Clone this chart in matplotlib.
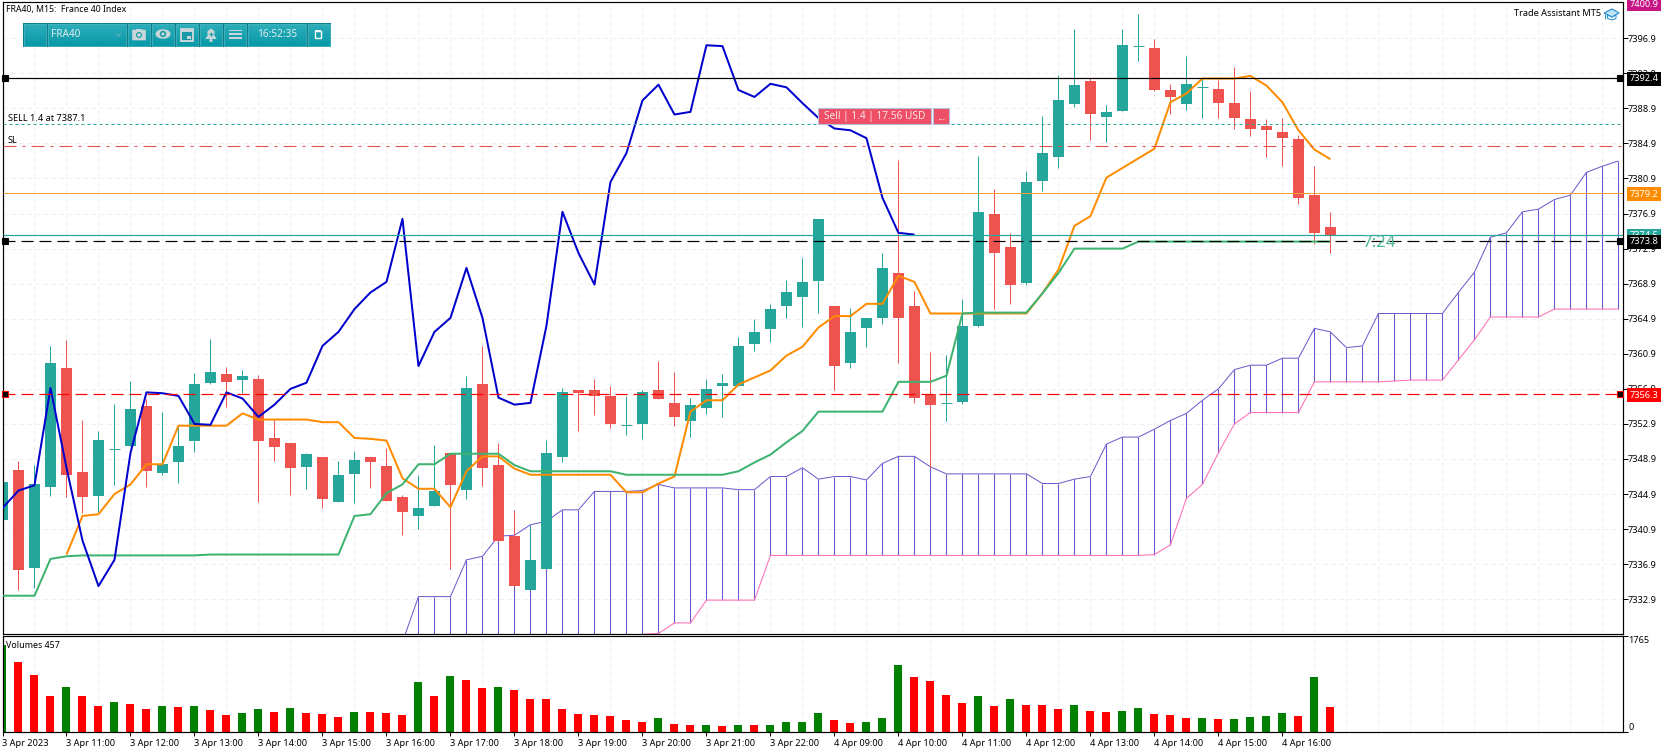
import numpy as np
import matplotlib
matplotlib.use("Agg")
import matplotlib.pyplot as plt
from matplotlib.patches import Rectangle, Circle, Ellipse, Polygon, FancyBboxPatch

# ---------- data ----------
open_ = [7341.9,7347.7,7336.5,7345.7,7359.3,7347.4,7344.7,7350.0,7350.4,7355.0,
 7347.3,7348.6,7351.0,7357.6,7358.6,7357.9,7358.0,7351.3,7350.7,7348.0,
 7349.1,7344.0,7347.2,7349.1,7348.1,7344.6,7342.4,7343.5,7349.6,7345.4,
 7357.4,7348.2,7340.1,7334.0,7336.4,7349.1,7356.8,7356.8,7356.1,7352.8,
 7352.9,7356.8,7355.3,7353.2,7354.7,7357.2,7357.2,7362.0,7363.7,7366.3,
 7367.4,7369.2,7366.4,7359.8,7363.9,7365.0,7370.1,7366.3,7356.3,7355.3,
 7355.4,7364.1,7376.9,7373.1,7369.0,7380.6,7383.3,7389.4,7392.0,7387.9,
 7388.6,7396.0,7395.8,7391.0,7389.4,7391.3,7391.1,7389.5,7387.7,7386.9,
 7386.2,7385.4,7379.0,7375.4]
close = [7346.3,7336.2,7346.1,7359.8,7347.1,7344.6,7351.1,7350.0,7354.6,7347.5,
 7348.3,7350.4,7357.5,7358.8,7357.7,7358.4,7351.0,7350.3,7347.9,7349.5,
 7344.3,7347.1,7348.8,7348.6,7344.1,7342.8,7343.3,7345.3,7345.9,7357.0,
 7347.9,7339.6,7334.4,7337.4,7349.6,7356.5,7356.4,7356.1,7352.9,7352.8,
 7356.5,7355.8,7353.7,7355.1,7356.9,7357.6,7361.8,7363.4,7366.0,7367.9,
 7369.1,7376.3,7359.5,7363.4,7365.0,7370.7,7365.0,7355.9,7355.1,7355.3,
 7364.1,7377.1,7372.4,7368.8,7380.5,7383.8,7389.8,7391.6,7388.2,7388.5,
 7396.1,7396.0,7391.0,7390.2,7391.7,7391.3,7389.5,7387.8,7386.6,7386.4,
 7385.5,7378.7,7374.7,7374.5]
high = [7346.3,7348.7,7348.2,7361.8,7362.5,7353.4,7352.1,7355.2,7357.8,7355.8,
 7354.3,7352.5,7358.7,7362.6,7359.4,7359.1,7358.5,7353.4,7350.7,7349.6,
 7349.1,7348.7,7349.8,7349.1,7350.2,7344.8,7347.1,7350.5,7349.6,7358.4,
 7361.8,7350.7,7343.1,7341.3,7351.1,7357.0,7356.8,7358.0,7357.2,7356.1,
 7356.8,7360.1,7358.8,7355.9,7358.0,7358.6,7362.8,7364.9,7366.6,7369.3,
 7371.8,7376.3,7366.4,7366.1,7365.0,7372.4,7383.0,7368.1,7361.1,7360.8,
 7367.2,7383.5,7379.7,7374.7,7381.8,7388.0,7392.7,7398.0,7392.4,7389.3,
 7398.0,7399.7,7396.8,7391.7,7394.9,7392.3,7392.1,7393.6,7390.9,7387.7,
 7387.8,7385.9,7382.3,7377.1]
low = [7341.9,7334.0,7334.2,7344.7,7344.6,7342.7,7342.9,7345.9,7350.4,7345.7,
 7347.1,7346.2,7349.7,7357.4,7354.8,7356.4,7344.0,7348.7,7344.8,7345.5,
 7343.3,7344.0,7343.9,7345.6,7344.1,7340.2,7340.9,7343.5,7336.4,7344.3,
 7345.8,7339.6,7334.4,7334.0,7336.4,7348.5,7352.1,7353.9,7352.4,7351.6,
 7351.2,7355.8,7352.7,7351.4,7354.0,7353.7,7357.2,7361.2,7362.3,7365.0,
 7364.0,7365.5,7356.8,7359.3,7361.7,7364.3,7359.8,7355.3,7347.9,7353.2,
 7355.2,7364.0,7366.0,7366.6,7368.8,7379.5,7382.1,7389.0,7385.3,7385.1,
 7388.6,7394.3,7390.9,7388.2,7388.7,7387.8,7387.8,7386.6,7385.8,7383.4,
 7382.3,7378.0,7373.4,7372.4]
tenkan_start = 4
tenkan = [7338.0,7342.4,7342.6,7344.9,7346.0,7348.3,
 7348.3,7352.7,7352.7,7352.7,7352.7,7354.1,7353.4,7353.4,7353.4,7353.4,
 7353.1,7353.1,7351.3,7351.2,7351.0,7346.7,7345.5,7345.5,7343.4,7347.5,
 7349.2,7349.2,7347.8,7347.1,7347.1,7347.1,7347.1,7347.1,7347.1,7345.1,
 7345.1,7346.1,7346.9,7354.3,7355.6,7355.6,7357.4,7358.2,7359.0,7360.7,
 7361.7,7363.9,7365.2,7365.2,7366.6,7366.6,7369.8,7369.1,7365.5,7365.5,
 7365.5,7365.5,7365.5,7365.5,7365.5,7367.8,7370.5,7375.5,7376.6,7381.0,
 7382.1,7383.2,7384.3,7389.6,7390.6,7392.3,7392.3,7392.3,7392.6,7391.5,
 7389.6,7386.4,7384.2,7383.1]
kijun = [7333.3,7333.3,7333.3,7337.5,7337.8,7337.9,7337.9,7337.9,7337.9,7337.9,
 7337.9,7337.9,7337.9,7338.0,7338.0,7338.0,7338.0,7338.0,7338.0,7338.0,
 7338.0,7338.0,7342.4,7342.6,7345.0,7346.0,7348.3,7348.3,7349.5,7349.5,
 7349.5,7349.5,7348.2,7347.5,7347.5,7347.5,7347.5,7347.5,7347.5,7347.1,
 7347.1,7347.1,7347.1,7347.1,7347.1,7347.1,7347.5,7348.5,7349.4,7350.8,
 7352.1,7354.3,7354.3,7354.3,7354.3,7354.3,7357.7,7357.7,7357.7,7358.4,
 7365.5,7365.6,7365.6,7365.6,7365.6,7367.8,7370.1,7372.9,7372.9,7372.9,
 7372.9,7373.7,7373.7,7373.7,7373.7,7373.7,7373.7,7373.7,7373.7,7373.7,
 7373.7,7373.7,7373.7,7373.7]
senkou_start = 25
senkou_a = [7328.0,7333.2,7333.2,7333.2,7337.4,
 7337.8,7340.1,7340.2,7341.4,7341.8,7343.1,7343.1,7345.2,7345.2,7345.2,
 7345.3,7346.0,7345.6,7345.6,7345.6,7345.6,7345.4,7345.4,7346.9,7346.9,
 7347.9,7346.6,7346.9,7346.9,7346.5,7348.4,7349.2,7349.2,7348.0,7347.2,
 7347.2,7347.2,7347.2,7347.2,7347.2,7346.1,7346.1,7346.6,7346.9,7350.6,
 7351.4,7351.4,7352.3,7353.3,7354.1,7355.6,7356.9,7359.1,7359.6,7359.6,
 7360.4,7360.4,7363.8,7363.4,7361.6,7361.8,7365.5,7365.5,7365.5,7365.5,
 7365.5,7367.9,7370.2,7374.2,7374.7,7377.1,7377.4,7378.5,7379.0,7381.6,
 7382.3,7382.9]
senkou_b = [7328.0,7328.0,7328.0,7328.0,7328.0,
 7328.0,7328.0,7328.0,7328.0,7328.0,7328.0,7328.0,7328.0,7328.0,7328.0,
 7328.9,7329.0,7330.2,7330.2,7332.8,7332.8,7332.8,7332.8,7337.9,7337.9,
 7337.9,7337.9,7337.9,7337.9,7337.9,7337.9,7337.9,7337.9,7337.9,7337.9,
 7337.9,7337.9,7337.9,7337.9,7337.9,7337.9,7337.9,7337.9,7337.9,7337.9,
 7337.9,7337.9,7338.0,7339.1,7344.4,7346.0,7349.6,7352.9,7354.2,7354.2,
 7354.2,7354.2,7357.7,7357.7,7357.7,7357.7,7357.7,7357.8,7357.9,7357.9,
 7357.9,7360.2,7362.5,7365.1,7365.1,7365.1,7365.1,7366.0,7366.0,7366.0,
 7366.0,7366.0]
chikou_shift = 26
volumes = [1599,1292,1052,664,830,664,480,554,517,424,
 480,461,480,406,314,351,424,369,443,351,
 332,277,369,369,351,314,923,664,1033,959,
 812,830,775,609,609,424,332,314,295,221,
 185,258,148,129,129,111,129,129,129,185,
 185,351,221,166,185,258,1236,1015,941,683,
 535,664,480,609,498,498,424,498,387,369,
 387,443,332,314,258,258,240,240,277,295,
 351,295,1015,457]
vol_dirs = "grrrgrrgrr" "grgrrggrgr" "rrgrrrgrgr" "rgrrrrrrrr" "rgrrgrgrgg" \
           "ggrrgggrrr" "rgrgrrrgrr" "ggrrrgrggg" "grgr"
price_ticks = [7396.9,7392.9,7388.9,7384.9,7380.9,7376.9,7372.9,7368.9,7364.9,
               7360.9,7356.9,7352.9,7348.9,7344.9,7340.9,7336.9,7332.9]
time_labels = ["3 Apr 2023","3 Apr 11:00","3 Apr 12:00","3 Apr 13:00","3 Apr 14:00",
               "3 Apr 15:00","3 Apr 16:00","3 Apr 17:00","3 Apr 18:00","3 Apr 19:00",
               "3 Apr 20:00","3 Apr 21:00","3 Apr 22:00","4 Apr 09:00","4 Apr 10:00",
               "4 Apr 11:00","4 Apr 12:00","4 Apr 13:00","4 Apr 14:00","4 Apr 15:00","4 Apr 16:00"]
LEVEL_BLACK, LEVEL_SELL, LEVEL_SL, LEVEL_ORANGE, LEVEL_BID, LEVEL_DASH, LEVEL_RED = \
    7392.4, 7387.1, 7384.6, 7379.2, 7374.5, 7373.8, 7356.3

# ---------- style ----------
W, H = 1670, 753
PX = 0.72
FONT = ["Noto Sans", "DejaVu Sans"]
FS = 6.6
plt.rcParams.update({"font.family": FONT, "font.size": FS, "lines.scale_dashes": False,
                     "axes.linewidth": 1.2 * PX, "lines.solid_capstyle": "butt",
                     "lines.dash_capstyle": "butt"})
C_UP, C_DN = "#26a69a", "#ef5350"
GRID = (0, (4 * PX, 4 * PX))
GRID_C = "#eeeeee"


def rect(l, t, r, b):
    return [l / W, 1 - b / H, (r - l) / W, (b - t) / H]


fig = plt.figure(figsize=(W / 100, H / 100), dpi=100, facecolor="white")
ax = fig.add_axes(rect(2.5, 2.3, 1622.5, 634.3))
vx = fig.add_axes(rect(2.5, 636.3, 1622.5, 732.3))
XLIM = (0.00625, 101.256)
bars = np.arange(len(close))

# ---------- grid ----------
grid_x = np.arange(0, 102, 2)
for a in (ax, vx):
    a.set_xlim(*XLIM)
    a.set_xticks(grid_x, minor=True)
    a.grid(True, which="minor", axis="x", color=GRID_C, lw=PX, ls=GRID, zorder=0)
    a.tick_params(which="minor", length=0)
    a.set_axisbelow(True)
    a.yaxis.tick_right()

# ---------- ichimoku cloud ----------
sx = np.arange(senkou_start, senkou_start + len(senkou_a))
ax.vlines(sx[1:], senkou_b[1:], senkou_a[1:], color="#6a5acd", lw=1.0 * PX * 1.1, zorder=1.2)
ax.plot(sx, senkou_a, color="#6a5acd", lw=PX, zorder=1.4)
ax.plot(sx, senkou_b, color="#ff69b4", lw=PX, zorder=1.4)

# ---------- candles ----------
cols = [C_UP if c >= o else C_DN for o, c in zip(open_, close)]
ax.vlines(bars, low, high, colors=cols, lw=1.0 * PX, zorder=2)
bot = np.minimum(open_, close)
ht = np.abs(np.array(close) - np.array(open_))
ax.bar(bars, ht, bottom=bot, width=11 / 16, color=cols, lw=0, zorder=2.1)
doji = np.where(ht == 0)[0]
ax.hlines(np.array(close)[doji], doji - 5.5 / 16, doji + 5.5 / 16,
          colors=[cols[i] for i in doji], lw=PX, zorder=2.1)

# ---------- indicator lines ----------
ax.plot(np.arange(tenkan_start, len(close)), tenkan, color="#ff8c00", lw=2 * PX,
        zorder=3, solid_joinstyle="round")
ax.plot(bars, kijun, color="#3cb371", lw=2 * PX, zorder=3.1, solid_joinstyle="round")
chikou = close[chikou_shift:]
ax.plot(np.arange(len(chikou)), chikou, color="#0000cd", lw=2 * PX, zorder=3.2,
        solid_joinstyle="round")

# ---------- horizontal levels ----------
DASH = (0, (12 * PX, 6 * PX))
ax.axhline(LEVEL_BLACK, color="black", lw=1.2 * PX, zorder=4)
ax.axhline(LEVEL_SELL, color="#26a69a", lw=PX, ls=(0, (3 * PX, 3 * PX)), zorder=4)
ax.axhline(LEVEL_SL, color="#e0564f", lw=1.1 * PX, ls=(0, (13 * PX, 6 * PX, 3 * PX, 6 * PX)), zorder=4)
ax.axhline(LEVEL_ORANGE, color="#f39c32", lw=PX, zorder=4)
ax.axhline(LEVEL_BID, color="#26a69a", lw=1.2 * PX, zorder=4)
ax.axhline(LEVEL_DASH, color="black", lw=1.2 * PX, ls=DASH, zorder=4)
ax.axhline(LEVEL_RED, color="#ff0000", lw=1.2 * PX, ls=DASH, zorder=4)

# ---------- price axis ----------
ax.set_ylim(7328.9, 7401.0)
ax.set_yticks(price_ticks)
ax.set_yticklabels([f"{p:.1f}" for p in price_ticks])
ax.grid(True, which="major", axis="y", color=GRID_C, lw=PX, ls=GRID, zorder=0)
ax.tick_params(axis="y", which="major", length=3.5, width=PX, pad=0.3, labelsize=FS)
ax.set_xticks([])
for lbl in ax.get_yticklabels():
    lbl.set_ha("left")

ytr = ax.get_yaxis_transform()
for price, fc in [(7400.9, "#c71585"), (LEVEL_BID, "#26a69a"), (LEVEL_ORANGE, "#ff8c00"),
                  (LEVEL_BLACK, "black"), (LEVEL_DASH, "black"), (LEVEL_RED, "#ff0000")]:
    ax.text(1 + 7 / 1620, price, f"{price:.1f}", transform=ytr, color="white", fontsize=FS,
            va="center_baseline", ha="left", clip_on=False, zorder=20,
            bbox=dict(boxstyle="square,pad=0.27", fc=fc, ec="none"))
for price, edge in [(LEVEL_BLACK, "black"), (LEVEL_DASH, "black"), (LEVEL_RED, "#ff0000")]:
    for xf in (2.5 / 1620, 1617.1 / 1620):
        ax.plot([xf], [price], marker="s", ms=4.3, mfc="black", mec=edge, mew=0.8,
                transform=ytr, clip_on=False, zorder=7)

# ---------- volume panel ----------
vcols = ["#008000" if d == "g" else "#ff0000" for d in vol_dirs]
vx.bar(bars, volumes, width=0.5, color=vcols, lw=0, zorder=2)
vx.set_ylim(-6, 1765)
vx.set_yticks([0, 1765])
vx.set_yticklabels(["0", "1765"])
vx.tick_params(axis="y", which="major", length=3.5, width=PX, pad=0.8, labelsize=FS)
labs = vx.get_yticklabels()
labs[0].set_va("bottom")
labs[1].set_va("top")
for lbl in labs:
    lbl.set_ha("left")
tick_pos = np.arange(len(time_labels)) * 4
vx.set_xticks(tick_pos)
vx.set_xticklabels(time_labels, ha="left")
vx.tick_params(axis="x", which="major", length=2.6, width=PX, pad=2, labelsize=FS)

# ---------- overlay (panel captions, toolbar, trade widgets) ----------
ov = fig.add_axes([0, 0, 1, 1], zorder=10)
ov.patch.set_alpha(0)
ov.axis("off")


def txt(x, y, s, **k):
    k.setdefault("fontsize", FS)
    k.setdefault("va", "center")
    k.setdefault("color", "black")
    ov.text(x, y, s, **k)


txt(6.4, 9.5, "FRA40, M15:  France 40 Index", fontsize=6.25)
txt(7.5, 118.5, "SELL 1.4 at 7387.1")
txt(7.5, 140.5, "SL")
txt(6, 645, "Volumes 457", fontsize=6.4)
txt(1514, 13.5, "Trade Assistant MT5")
txt(1362.5, 243, "7:24", fontsize=12, color="#4fb793")

# graduation cap icon
ov.add_patch(Polygon([(1604, 13), (1612, 9), (1619, 13), (1612, 17)], fc="#bfe3f7", ec="#2b8fd0", lw=PX * 1.2))
ov.add_patch(Polygon([(1607.5, 15), (1607.5, 18.5), (1612, 20), (1616, 18.5), (1616, 15), (1612, 17)],
                     fc="#e6f4fc", ec="#2b8fd0", lw=PX))
ov.plot([1605, 1605], [13.5, 19], color="#2b8fd0", lw=PX)

# toolbar
ov.add_patch(Rectangle((23.3, 23.3), 307.4, 23.7, fc="#0d7f8c", ec="none"))
grad = np.linspace(0, 1, 32)[:, None, None]
c_top, c_bot = np.array([0.18, 0.68, 0.73]), np.array([0.03, 0.60, 0.66])
img = c_top * (1 - grad) + c_bot * grad
segments = [(24, 46), (48.3, 125.7), (128.3, 150), (152.3, 174), (176.3, 198), (200.3, 222),
            (224.3, 246), (248.3, 305.7), (308, 330)]
for l, r in segments:
    ov.imshow(img, extent=(l, r, 45.7, 24.3), aspect="auto", zorder=1, interpolation="bilinear")
    ov.add_patch(Rectangle((l, 24.3), r - l, 21.4, fc="none", ec="#47b3bd", lw=PX * 0.8, zorder=2))
txt(51, 34.3, "FRA40", color="#dfeef0", fontsize=7.2, zorder=3)
txt(277, 34.3, "16:52:35", color="#dfeef0", fontsize=7.2, ha="center", zorder=3)
ICON = "#c8d6d9"
ov.plot([116, 118.5, 121], [33.5, 36, 33.5], color="#6fb5bd", lw=PX, zorder=3)
# camera
ov.add_patch(FancyBboxPatch((132.5, 30), 13, 10, boxstyle="round,pad=0.3", fc=ICON, ec="none", zorder=3))
ov.add_patch(Rectangle((136, 28.5), 6, 2, fc=ICON, ec="none", zorder=3))
ov.add_patch(Circle((139, 35), 3, fc="#1a9aa6", ec="none", zorder=4))
ov.add_patch(Circle((139, 35), 1.8, fc=ICON, ec="none", zorder=4))
# eye
ov.add_patch(Ellipse((163, 34), 15, 9.5, fc=ICON, ec="none", zorder=3))
ov.add_patch(Circle((163, 34), 3.2, fc="#1a9aa6", ec="none", zorder=4))
ov.add_patch(Circle((163, 34), 1.6, fc=ICON, ec="none", zorder=4))
# calendar
ov.add_patch(Rectangle((181, 29), 12, 12, fc="#1a9aa6", ec=ICON, lw=1.4, zorder=3))
ov.add_patch(Rectangle((181, 29), 12, 3, fc=ICON, ec="none", zorder=3))
ov.add_patch(Rectangle((187, 35.5), 3.5, 3.2, fc=ICON, ec="none", zorder=4))
# bell
ov.add_patch(Polygon([(205, 39), (207.5, 36), (207.5, 31), (211, 28.5), (214.5, 31), (214.5, 36), (217, 39)],
                     fc=ICON, ec="none", zorder=3))
ov.add_patch(Circle((211, 40.5), 1.6, fc=ICON, ec="none", zorder=3))
ov.plot([209, 213], [33.8, 33.8], color="#1a9aa6", lw=PX * 1.2, zorder=4)
ov.plot([211, 211], [31.8, 35.8], color="#1a9aa6", lw=PX * 1.2, zorder=4)
# menu
for yy in (30.5, 34.3, 38.1):
    ov.add_patch(Rectangle((228.5, yy - 0.9), 13, 1.8, fc=ICON, ec="none", zorder=3))
# restore
ov.add_patch(Rectangle((314.5, 31), 6.5, 6.5, fc="none", ec="white", lw=1.0, zorder=3))
ov.plot([314.5, 321], [31.4, 31.4], color="white", lw=1.4, zorder=3)

# sell widget
for l, r in [(818, 931), (933, 949)]:
    ov.add_patch(Rectangle((l, 107.5), r - l, 16.5, fc="#ee4f66", ec="#b4bcd8", lw=PX * 1.1, zorder=5))
txt(874.5, 116, "Sell | 1.4 | 17.56 USD", color="#f7e6e8", fontsize=7.3, ha="center", zorder=6)
txt(941, 117, "...", color="#f7e6e8", fontsize=7.3, ha="center", zorder=6)

ov.set_xlim(0, W)
ov.set_ylim(H, 0)

fig.savefig("out.png", dpi=100, facecolor="white")
